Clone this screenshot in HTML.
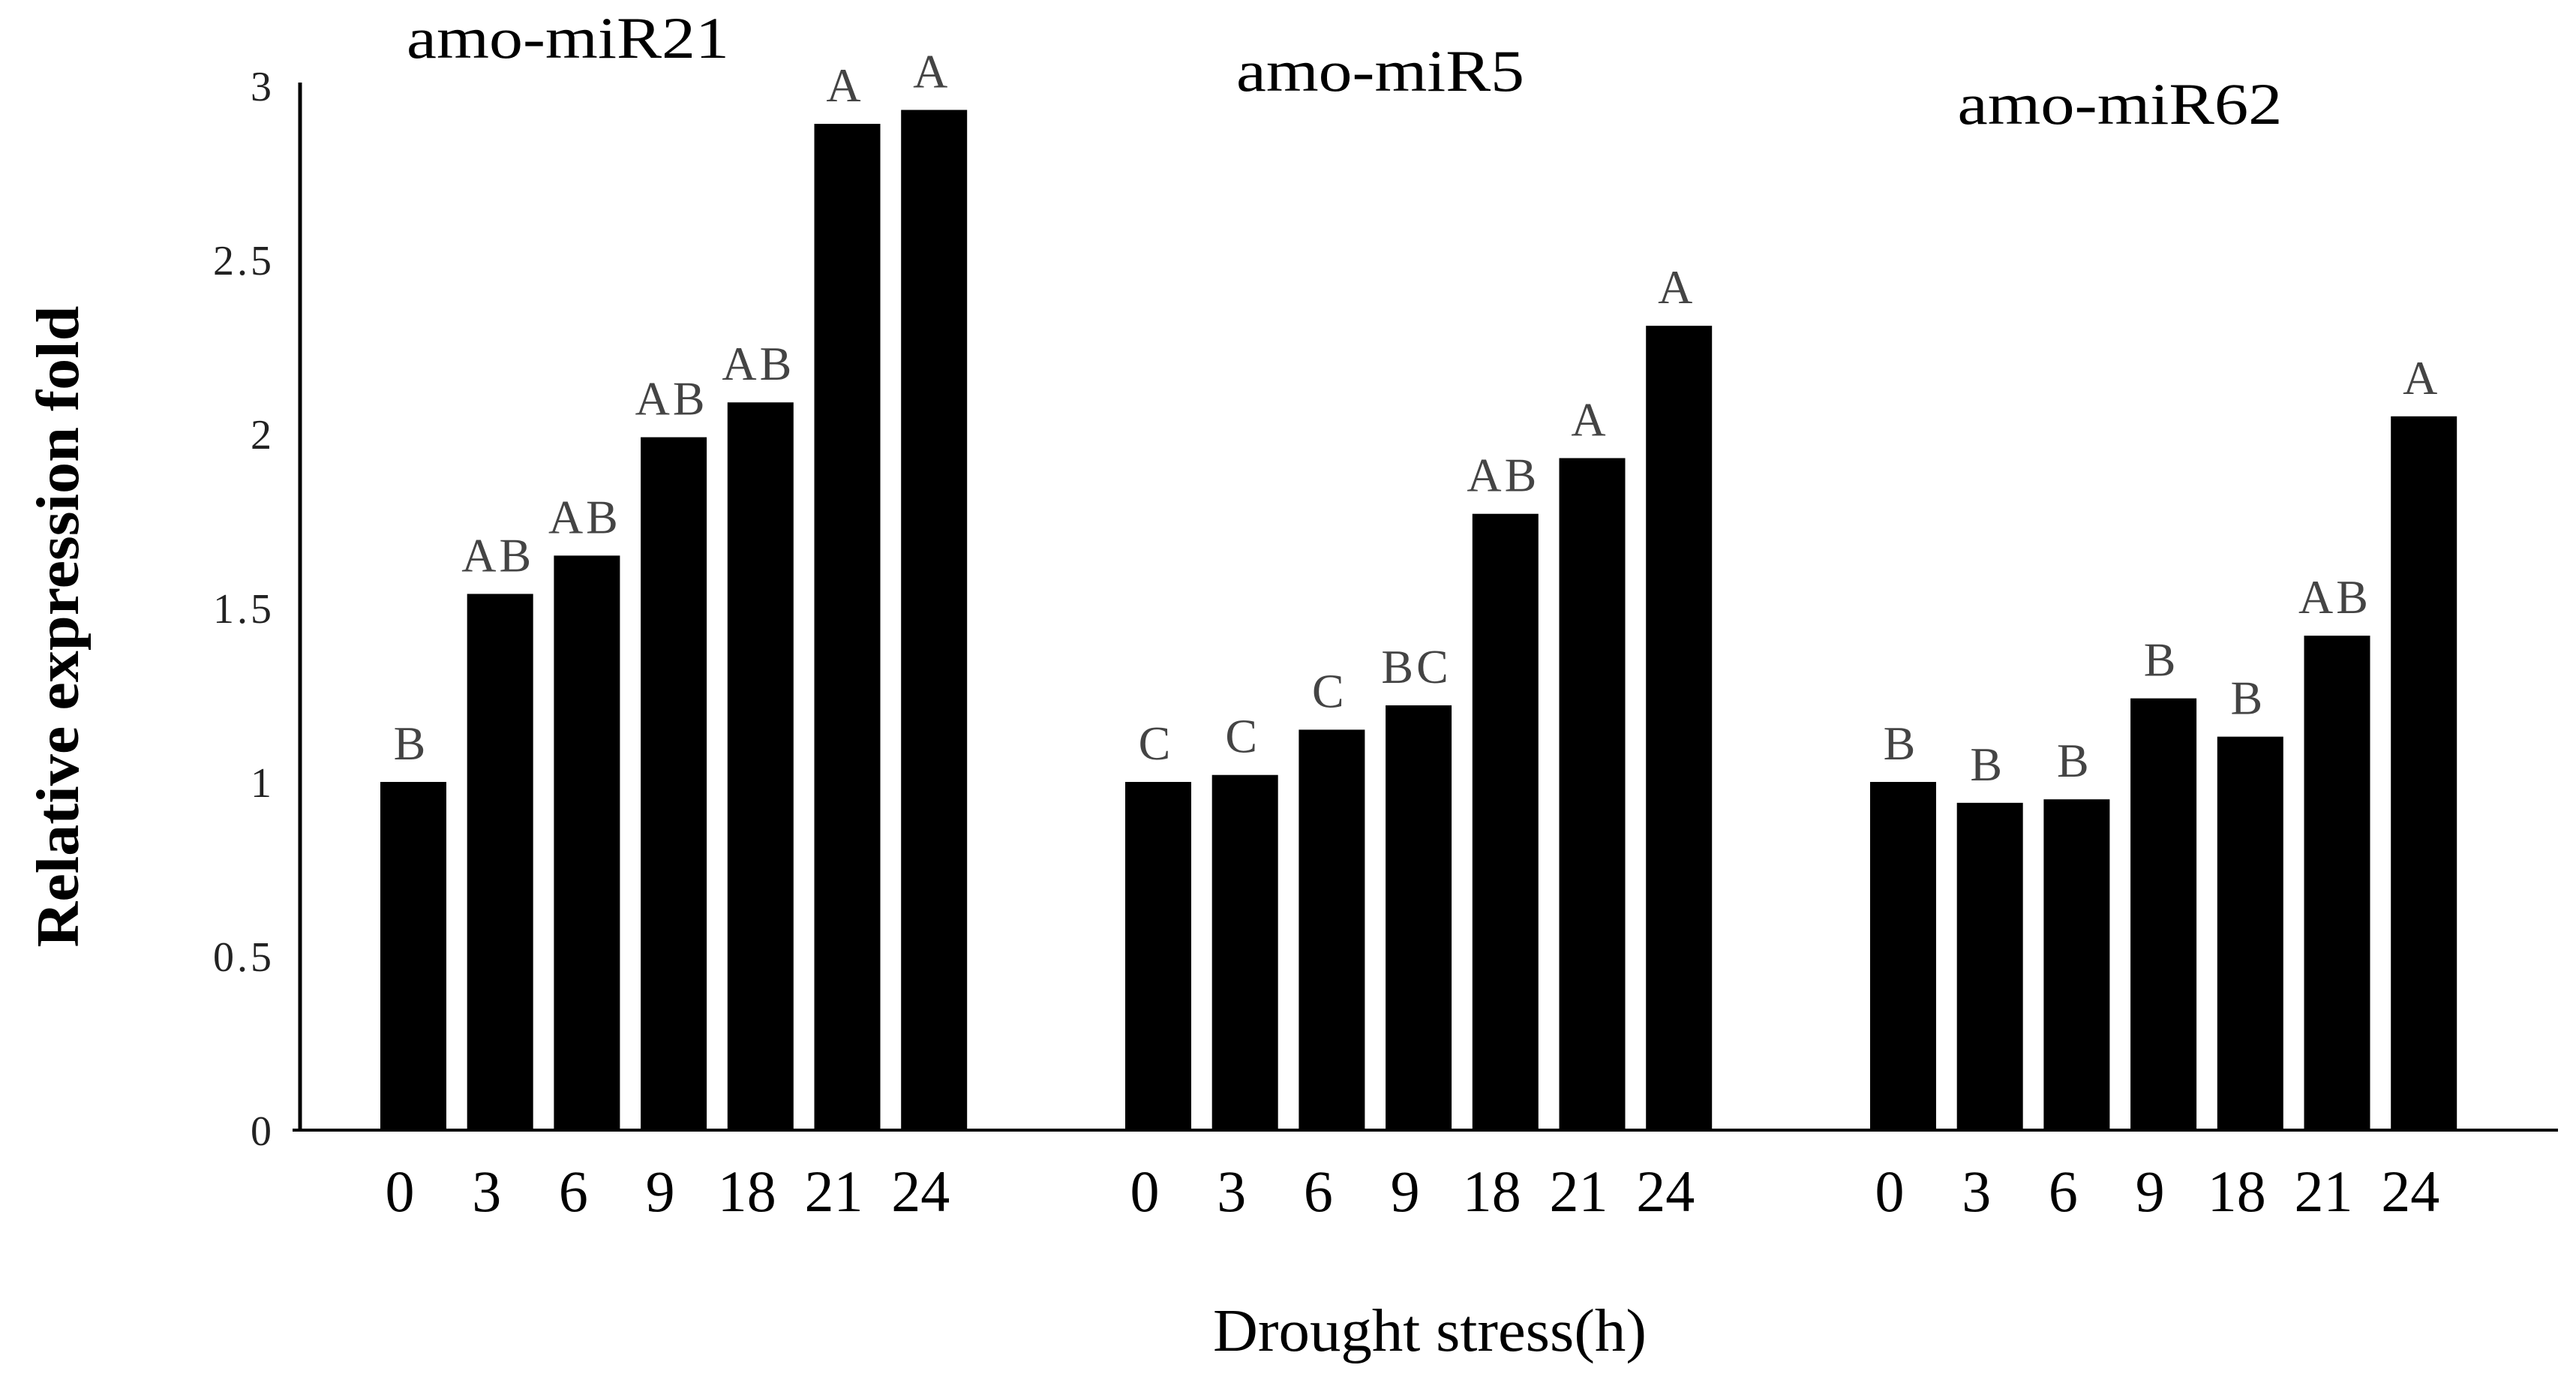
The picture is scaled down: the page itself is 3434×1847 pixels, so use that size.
<!DOCTYPE html>
<html><head><meta charset="utf-8"><style>
html,body{margin:0;padding:0;background:#fff;}
svg{display:block;font-family:"Liberation Serif",serif;}
</style></head><body>
<svg id="chart" width="3434" height="1847" viewBox="0 0 3434 1847" xmlns="http://www.w3.org/2000/svg">
<g id="axes"></g>
<g id="bars"></g>
<text x="0" y="0" transform="translate(104,835) rotate(-90)" text-anchor="middle" font-size="80" font-weight="bold" textLength="855" lengthAdjust="spacingAndGlyphs">Relative expression fold</text>
<text x="1906" y="1800" text-anchor="middle" font-size="80" textLength="578" lengthAdjust="spacingAndGlyphs">Drought stress(h)</text>
</svg>
<script>
const groups = ["amo-miR21", "amo-miR5", "amo-miR62"];
const hours = ["0", "3", "6", "9", "18", "21", "24"];
const miR21 = [1.0, 1.54, 1.65, 1.99, 2.09, 2.89, 2.93];
const miR5 = [1.0, 1.02, 1.15, 1.22, 1.77, 1.93, 2.31];
const miR62 = [1.0, 0.94, 0.95, 1.24, 1.13, 1.42, 2.05];
const letters21 = ["B", "AB", "AB", "AB", "AB", "A", "A"];
const letters5 = ["C", "C", "C", "BC", "AB", "A", "A"];
const letters62 = ["B", "B", "B", "B", "B", "AB", "A"];
const yTicks = ["0", "0.5", "1", "1.5", "2", "2.5", "3"];

const NS = "http://www.w3.org/2000/svg";
const y0 = 1506, unit = 464, axisX = 400;
const barW = 88, step = 115.7, firstLeft = 507, groupOff = 993;
const titlePos = [[757, 77, 430], [1840, 121, 384], [2826, 165, 433]];
function yScale(v){ return y0 - v * unit; }
function xLeft(g, i){ return firstLeft + g * groupOff + i * step; }
function mk(tag, attrs, parent){
  const e = document.createElementNS(NS, tag);
  for (const k in attrs) e.setAttribute(k, attrs[k]);
  parent.appendChild(e); return e;
}
const axes = document.getElementById("axes");
const bars = document.getElementById("bars");
let el = mk("line", {x1: axisX, y1: 110, x2: axisX, y2: y0 + 2, stroke: "#000", "stroke-width": 5}, axes);


el = mk("line", {x1: 390, y1: y0, x2: 3410, y2: y0, stroke: "#000", "stroke-width": 4}, axes);


yTicks.forEach(t => {
  const lab = mk("text", {x: 366, y: yScale(parseFloat(t)) + 20, "text-anchor": "end", "font-size": 56, fill: "#222", "letter-spacing": 4}, axes);
  lab.textContent = t;
  
  
});
const series = [miR21, miR5, miR62];
const lets = [letters21, letters5, letters62];
series.forEach((vals, g) => {
  const tt = mk("text", {x: titlePos[g][0], y: titlePos[g][1], "text-anchor": "middle", "font-size": 78, textLength: titlePos[g][2], lengthAdjust: "spacingAndGlyphs"}, bars);
  tt.textContent = groups[g];
  
  
  vals.forEach((v, i) => {
    const x = xLeft(g, i);
    const r = mk("rect", {x: x, y: yScale(v), width: barW, height: y0 - yScale(v), fill: "#000"}, bars);
    
    
    const l = mk("text", {x: x + barW / 2 - 3, y: yScale(v) - 30, "text-anchor": "middle", "font-size": 64, fill: "#444", "letter-spacing": 4}, bars);
    l.textContent = lets[g][i];
    
    
    const h = mk("text", {x: x + barW / 2 - 18, y: 1614, "text-anchor": "middle", "font-size": 78}, bars);
    h.textContent = hours[i];
    
    
  });
});
</script>
</body></html>
